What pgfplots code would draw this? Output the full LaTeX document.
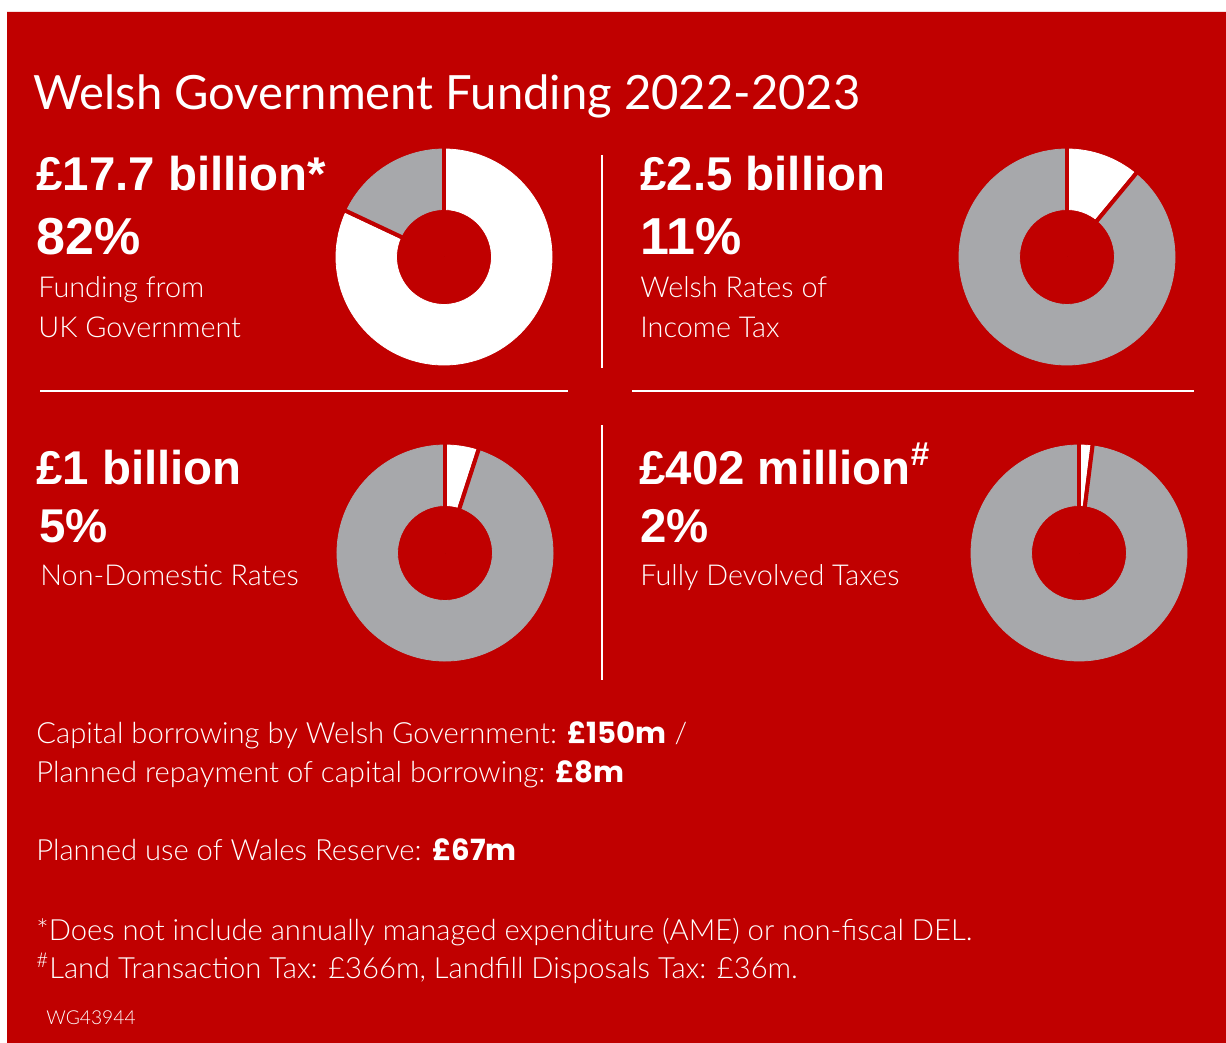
\documentclass[border=0pt]{standalone}
\usepackage{pgfplots}
\usepackage{pgfplotstable}
\pgfplotsset{compat=1.18}
\usepackage{fontspec}
\setmainfont{Lato}
\newfontfamily\lightfont{Lato Light}
\newfontfamily\arialfont{Liberation Sans}
\newfontfamily\popfont{Poppins}

\definecolor{wgred}{HTML}{C00000}
\definecolor{donutgrey}{HTML}{A7A8AB}

% donut segments: percent shares, clockwise from 12 o'clock
\pgfplotstableread{
cx   cy   before share grey
444  257  0      82    0
444  257  82     18    1
1067 257  0      11    0
1067 257  11     89    1
445  553  0      5     0
445  553  5      95    1
1079 553  0      2     0
1079 553  2      98    1
}\donuts

\newcommand\numfont{\arialfont\bfseries\fontsize{23.7}{28}\selectfont}
\newcommand\pctfont{\arialfont\bfseries\fontsize{26}{30}\selectfont}
\newcommand\labfont{\lightfont\fontsize{14.4}{18}\selectfont}
\newcommand\notefont{\lightfont\fontsize{14.6}{18}\selectfont}
\newcommand\hl[1]{{\popfont\bfseries #1}}
\tikzset{t/.style={text=white, inner sep=0pt, anchor=base west}}

\begin{document}
\begin{tikzpicture}
\begin{axis}[
  x=0.5pt, y=0.5pt,
  xmin=0, xmax=1226, ymin=0, ymax=1043,
  y dir=reverse,
  hide axis, clip=false,
]
% background
\addplot[fill=white, draw=none] coordinates {(0,0) (1226,0) (1226,1043) (0,1043) (0,0)};
\addplot[fill=wgred, draw=none] coordinates {(7,12) (1226,12) (1226,1043) (7,1043) (7,12)};

% dividers
\addplot[white, line width=0.7pt] coordinates {(602,155) (602,368)};
\addplot[white, line width=0.7pt] coordinates {(602,425) (602,680)};
\addplot[white, line width=0.7pt] coordinates {(40,391) (568,391)};
\addplot[white, line width=0.7pt] coordinates {(632,391) (1194,391)};

% donuts
\addplot[
  scatter, only marks, mark=*, mark size=0pt,
  mark options={draw=none, fill=none},
  point meta=\thisrow{grey},
  visualization depends on={\thisrow{before} \as \pbefore},
  visualization depends on={\thisrow{share} \as \pshare},
  visualization depends on={\thisrow{grey} \as \pgrey},
  scatter/@pre marker code/.code={%
    \pgfmathsetmacro\aA{90-3.6*\pbefore}%
    \pgfmathsetmacro\aB{90-3.6*(\pbefore+\pshare)}%
    \ifdim\pgrey pt>0.5pt \def\segcol{donutgrey}\else\def\segcol{white}\fi
    \fill[\segcol] (\aA:54pt) arc[start angle=\aA, end angle=\aB, radius=54pt]
      -- (\aB:23.75pt) arc[start angle=\aB, end angle=\aA, radius=23.75pt] -- cycle;
    \draw[wgred, line width=2pt] (\aA:22pt) -- (\aA:56pt);
    \draw[wgred, line width=2pt] (\aB:22pt) -- (\aB:56pt);
  },
  scatter/@post marker code/.code={},
] table[x=cx, y=cy] {\donuts};

% title
\node[t, font=\fontsize{23.6}{28}\selectfont] at (axis cs:33,110) {Welsh Government Funding 2022-2023};

% top left
\node[t, font=\numfont] at (axis cs:36,191) {£17.7 billion*};
\node[t, font=\pctfont] at (axis cs:36,255) {82\%};
\node[t, font=\labfont] at (axis cs:38,298) {Funding from};
\node[t, font=\labfont] at (axis cs:38,337) {UK Government};

% top right
\node[t, font=\numfont] at (axis cs:640,191) {£2.5 billion};
\node[t, font=\pctfont] at (axis cs:640,255) {11\%};
\node[t, font=\labfont] at (axis cs:640,298) {Welsh Rates of};
\node[t, font=\labfont] at (axis cs:640,337) {Income Tax};

% bottom left
\node[t, font=\numfont] at (axis cs:36,484) {£1 billion};
\node[t, font=\numfont] at (axis cs:39,542) {5\%};
\node[t, font=\labfont] at (axis cs:40,585) {Non-Domestic Rates};

% bottom right
\node[t, font=\numfont] at (axis cs:639,484) {£402 million\textsuperscript{\#}};
\node[t, font=\numfont] at (axis cs:640,542) {2\%};
\node[t, font=\labfont] at (axis cs:640,585) {Fully Devolved Taxes};

% notes
\node[t, font=\notefont] at (axis cs:36,743) {Capital borrowing by Welsh Government: \hl{£150m} /};
\node[t, font=\notefont] at (axis cs:36,782) {Planned repayment of capital borrowing: \hl{£8m}};
\node[t, font=\notefont] at (axis cs:36,860) {Planned use of Wales Reserve: \hl{£67m}};
\node[t, font=\notefont] at (axis cs:36,940) {*Does not include annually managed expenditure (AME) or non-fiscal DEL.};
\node[t, font=\notefont] at (axis cs:36,978) {\textsuperscript{\#}Land Transaction Tax: £366m, Landfill Disposals Tax: £36m.};
\node[t, font=\lightfont\fontsize{9.6}{12}\selectfont] at (axis cs:46,1024) {WG43944};
\end{axis}
\end{tikzpicture}
\end{document}
